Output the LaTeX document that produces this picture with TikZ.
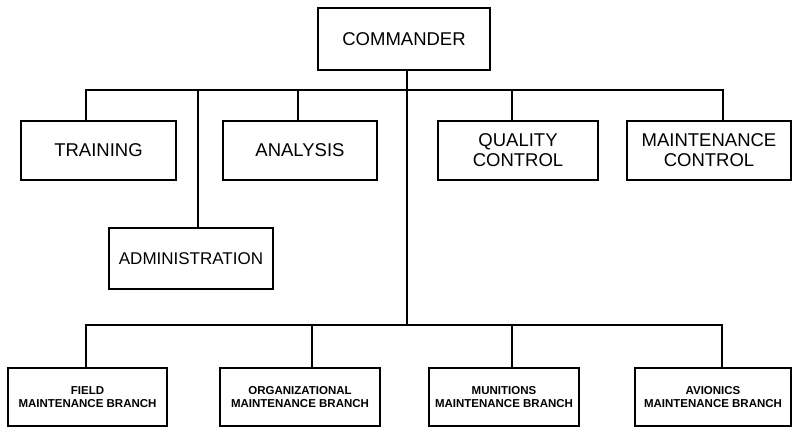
\documentclass[tikz,border=0pt]{standalone}
\usepackage{fontspec}
\setmainfont{Liberation Sans}
\usepackage{tikz}
\newcommand{\bigtxt}{\fontsize{18.5}{20}\selectfont}
\newcommand{\smalltxt}{\fontsize{11.5}{13.5}\selectfont\bfseries}

\begin{document}
\begin{tikzpicture}[x=1pt,y=-1pt,line width=1.8pt,
    unit/.style={draw,inner sep=0pt,align=center,font=\bigtxt},
    branch/.style={draw,inner sep=0pt,align=center,font=\smalltxt,minimum height=58pt}]
    \useasboundingbox (0,0) rectangle (792,429);
    \node[unit,minimum width=172pt,minimum height=62pt] (Com) at (404,39) {COMMANDER};
    \node[unit,minimum width=155pt,minimum height=59pt] (Tr) at (98.5,150.5) {TRAINING};
    \node[unit,minimum width=154pt,minimum height=59pt] (An) at (300,150.5) {ANALYSIS};
    \node[unit,minimum width=160pt,minimum height=59pt] (QC) at (518,150.5) {QUALITY\\CONTROL};
    \node[unit,minimum width=164pt,minimum height=59pt] (MC) at (709,150.5) {MAINTENANCE\\CONTROL};
    \node[unit,minimum width=164pt,minimum height=61pt,font=\fontsize{17}{20}\selectfont] (Adm) at (191,258.5) {ADMINISTRATION};
    \node[branch,minimum width=159pt] (Fld) at (87.5,397) {FIELD\\MAINTENANCE BRANCH};
    \node[branch,minimum width=160pt] (Org) at (300,397) {ORGANIZATIONAL\\MAINTENANCE BRANCH};
    \node[branch,minimum width=150pt] (Mun) at (504,397) {MUNITIONS\\MAINTENANCE BRANCH};
    \node[branch,minimum width=156pt] (Av) at (713,397) {AVIONICS\\MAINTENANCE BRANCH};
    \coordinate (t1) at (86,90);
    \coordinate (t2) at (198,90);
    \coordinate (t3) at (298,90);
    \coordinate (t4) at (407,90);
    \coordinate (t5) at (512,90);
    \coordinate (t6) at (723,90);
    \coordinate (b1) at (86,325);
    \coordinate (b2) at (312,325);
    \coordinate (b4) at (407,325);
    \coordinate (b5) at (512,325);
    \coordinate (b6) at (722,325);
    \draw (t1 |- Tr.north) -- (t1) -- (t6) -- (t6 |- MC.north);
    \draw (t2) -- (t2 |- Adm.north);
    \draw (t3) -- (t3 |- An.north);
    \draw (t5) -- (t5 |- QC.north);
    \draw (t4 |- Com.south) -- (b4);
    \draw (b1 |- Fld.north) -- (b1) -- (b6) -- (b6 |- Av.north);
    \draw (b2) -- (b2 |- Org.north);
    \draw (b5) -- (b5 |- Mun.north);
  \end{tikzpicture}
\end{document}
